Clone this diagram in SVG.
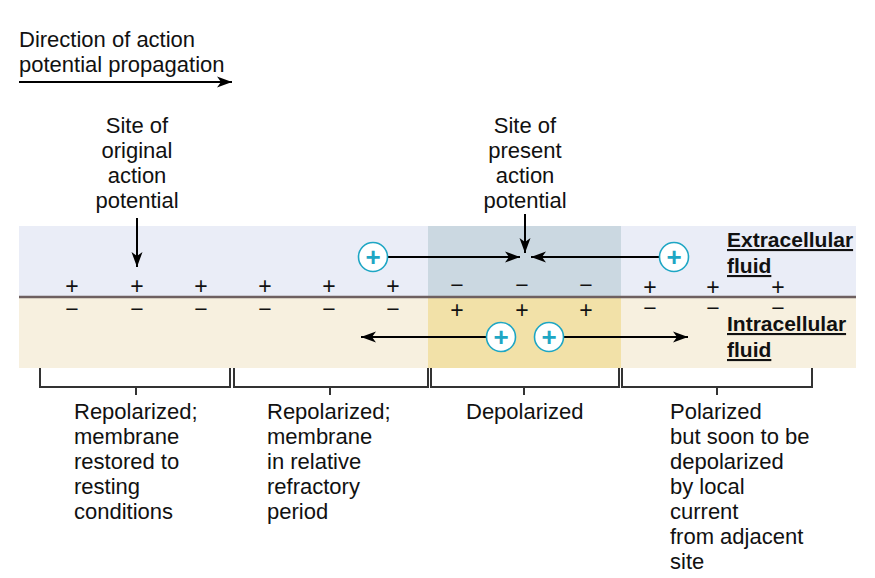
<svg xmlns="http://www.w3.org/2000/svg" width="875" height="578" viewBox="0 0 875 578">
<defs>
<marker id="ah" markerUnits="userSpaceOnUse" markerWidth="16" markerHeight="12" refX="15" refY="6" orient="auto">
<path d="M0,0.5 L15,6 L0,11.5 L4,6 z" fill="#000"/>
</marker>
<style>
.t{font-family:"Liberation Sans",Arial,sans-serif;font-size:22px;fill:#111}
.c{text-anchor:middle}
.b{font-family:"Liberation Sans",Arial,sans-serif;font-size:21px;font-weight:bold;fill:#111;text-decoration:underline}
.s{font-family:"Liberation Sans",Arial,sans-serif;font-size:23px;fill:#111;text-anchor:middle}
.ln{stroke:#000;stroke-width:2;fill:none}
.br{stroke:#333;stroke-width:2;fill:none}
.ion circle{fill:#fff;stroke:#1ea6c4;stroke-width:1.6}
.ion text{font-family:"Liberation Sans",Arial,sans-serif;font-size:26px;font-weight:bold;fill:#1ea6c4;text-anchor:middle}
</style>
</defs>
<rect width="875" height="578" fill="#fff"/>

<g id="membrane">
<rect x="19" y="226" width="837" height="71" fill="#eaedf7"/>
<rect x="19" y="297" width="837" height="71" fill="#f7f0df"/>
<rect x="428" y="226" width="193" height="71" fill="#cbd8e1"/>
<rect x="428" y="297" width="193" height="71" fill="#f2e1a8"/>
<line x1="19" y1="297" x2="856" y2="297" stroke="#6e6060" stroke-width="2.4"/>
</g>

<g id="charges">
<text class="s" x="72" y="294">+</text><text class="s" x="137" y="294">+</text><text class="s" x="201" y="294">+</text>
<text class="s" x="265" y="294">+</text><text class="s" x="329" y="294">+</text><text class="s" x="393" y="294">+</text>
<text class="s" x="72" y="317">−</text><text class="s" x="137" y="317">−</text><text class="s" x="201" y="317">−</text>
<text class="s" x="265" y="317">−</text><text class="s" x="329" y="317">−</text><text class="s" x="393" y="317">−</text>
<text class="s" x="457" y="293">−</text><text class="s" x="522" y="293">−</text><text class="s" x="586" y="293">−</text>
<text class="s" x="457" y="318">+</text><text class="s" x="522" y="318">+</text><text class="s" x="586" y="318">+</text>
<text class="s" x="650" y="295">+</text><text class="s" x="713" y="295">+</text><text class="s" x="778" y="295">+</text>
<text class="s" x="650" y="316">−</text><text class="s" x="713" y="316">−</text><text class="s" x="778" y="316">−</text>
</g>

<g id="connectors">
<line class="ln" x1="19" y1="82" x2="232" y2="82" marker-end="url(#ah)"/>
<line class="ln" x1="137" y1="218" x2="137" y2="267" marker-end="url(#ah)"/>
<line class="ln" x1="525" y1="214" x2="525" y2="253" marker-end="url(#ah)"/>
<line class="ln" x1="388" y1="257" x2="520" y2="257" marker-end="url(#ah)"/>
<line class="ln" x1="659" y1="257" x2="531" y2="257" marker-end="url(#ah)"/>
<line class="ln" x1="486" y1="337" x2="361" y2="337" marker-end="url(#ah)"/>
<line class="ln" x1="564" y1="337" x2="688" y2="337" marker-end="url(#ah)"/>
</g>

<g id="ion-ext-left" class="ion"><circle cx="373" cy="257" r="14.5"/><text x="373" y="266">+</text></g>
<g id="ion-ext-right" class="ion"><circle cx="674" cy="257" r="14.5"/><text x="674" y="266">+</text></g>
<g id="ion-int-left" class="ion"><circle cx="501" cy="337" r="14.5"/><text x="501" y="346">+</text></g>
<g id="ion-int-right" class="ion"><circle cx="549" cy="337" r="14.5"/><text x="549" y="346">+</text></g>

<g id="title">
<text class="t" x="19" y="47">Direction of action</text>
<text class="t" x="19" y="72">potential propagation</text>
</g>

<g id="site-original">
<text class="t c" x="137" y="133">Site of</text>
<text class="t c" x="137" y="158">original</text>
<text class="t c" x="137" y="183">action</text>
<text class="t c" x="137" y="208">potential</text>
</g>

<g id="site-present">
<text class="t c" x="525" y="133">Site of</text>
<text class="t c" x="525" y="158">present</text>
<text class="t c" x="525" y="183">action</text>
<text class="t c" x="525" y="208">potential</text>
</g>

<g id="extracellular-label">
<text class="b" x="727" y="247">Extracellular</text>
<text class="b" x="727" y="273">fluid</text>
</g>
<g id="intracellular-label">
<text class="b" x="727" y="331">Intracellular</text>
<text class="b" x="727" y="357">fluid</text>
</g>

<g id="brackets">
<path class="br" d="M40,368 V387 H230 V368 M136,387 V395"/>
<path class="br" d="M234,368 V387 H428 V368 M330,387 V395"/>
<path class="br" d="M431,368 V387 H619 V368 M524,387 V395"/>
<path class="br" d="M622,368 V387 H812 V368 M717,387 V395"/>
</g>

<g id="zone-repolarized-rest">
<text class="t" x="74" y="419">Repolarized;</text>
<text class="t" x="74" y="444">membrane</text>
<text class="t" x="74" y="469">restored to</text>
<text class="t" x="74" y="494">resting</text>
<text class="t" x="74" y="519">conditions</text>
</g>
<g id="zone-repolarized-refractory">
<text class="t" x="267" y="419">Repolarized;</text>
<text class="t" x="267" y="444">membrane</text>
<text class="t" x="267" y="469">in relative</text>
<text class="t" x="267" y="494">refractory</text>
<text class="t" x="267" y="519">period</text>
</g>
<g id="zone-depolarized">
<text class="t" x="466" y="419">Depolarized</text>
</g>
<g id="zone-polarized">
<text class="t" x="670" y="419">Polarized</text>
<text class="t" x="670" y="444">but soon to be</text>
<text class="t" x="670" y="469">depolarized</text>
<text class="t" x="670" y="494">by local</text>
<text class="t" x="670" y="519">current</text>
<text class="t" x="670" y="544">from adjacent</text>
<text class="t" x="670" y="569">site</text>
</g>
</svg>
